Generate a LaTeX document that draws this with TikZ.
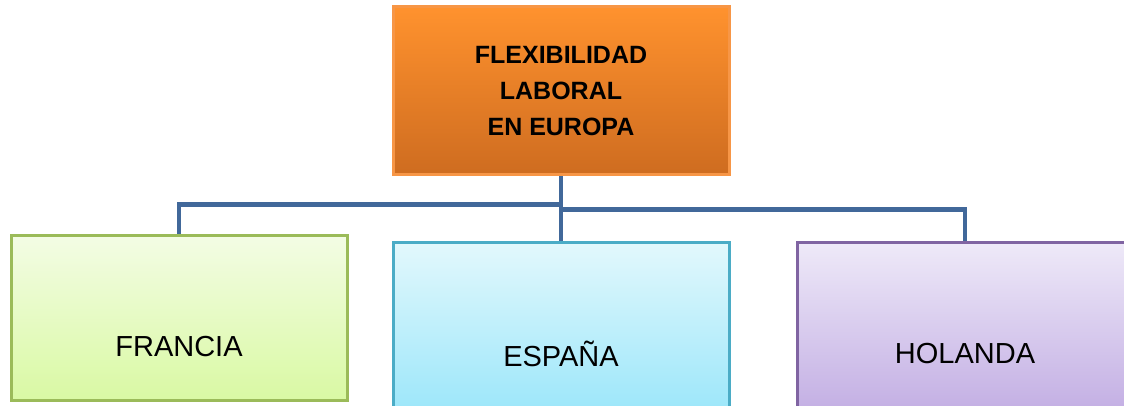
\documentclass[tikz,border=0pt]{standalone}
\usepackage{fontspec}
\setmainfont{Liberation Sans}
\usepackage{tikz}
\definecolor{orangetop}{RGB}{255,146,46}
\definecolor{orangebot}{RGB}{206,108,32}
\definecolor{orangeline}{RGB}{247,150,70}
\definecolor{greentop}{RGB}{243,252,228}
\definecolor{greenbot}{RGB}{217,249,163}
\definecolor{greenline}{RGB}{155,187,89}
\definecolor{bluetop}{RGB}{226,248,252}
\definecolor{bluebot}{RGB}{158,231,250}
\definecolor{blueline}{RGB}{75,172,198}
\definecolor{violettop}{RGB}{238,233,248}
\definecolor{violetbot}{RGB}{196,176,228}
\definecolor{violetline}{RGB}{128,100,162}
\definecolor{linkblue}{RGB}{65,104,154}

\begin{document}
\begin{tikzpicture}[x = 1pt, y = 1pt,
  box/.style = {draw, line width = 3pt, inner sep = 0pt, minimum width = 336pt},
  leafbox/.style = {box, minimum height = 165pt},
  leaftext/.style = {font = \fontsize{29}{34}\selectfont},
  link/.style = {line width = 4.5pt, linkblue}]

\clip (0, 0) rectangle (1124, 406);

\node (top) [box, minimum height = 168pt, orangeline, top color = orangetop, bottom color = orangebot] at (561, 315) {};
\node (francia) [leafbox, greenline, top color = greentop, bottom color = greenbot] at (179, 87.5) {};
\node (espana) [leafbox, blueline, top color = bluetop, bottom color = bluebot] at (561, 80.5) {};
\node (holanda) [leafbox, violetline, top color = violettop, bottom color = violetbot] at (965, 80.5) {};

\node (toptext) [align = center, font = \fontsize{25}{36}\selectfont\bfseries] at (top.center) {FLEXIBILIDAD\\LABORAL\\EN EUROPA};
\node (franciatext) [leaftext] at ([yshift = -112pt]francia.north) {FRANCIA};
\node (espanatext) [leaftext] at ([yshift = -112pt]espana.north) {ESPAÑA};
\node (holandatext) [leaftext] at ([yshift = -112pt]holanda.north) {HOLANDA};

\draw [link] (top.south) -- (espana.north);
\draw [link] ([yshift = -28pt]top.south) -| (francia.north);
\draw [link] ([yshift = -33pt]top.south) -| (holanda.north);
\end{tikzpicture}
\end{document}
